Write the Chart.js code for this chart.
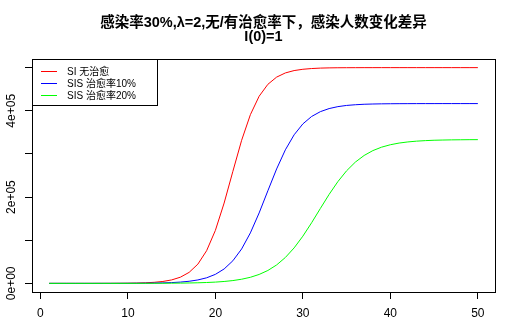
<!DOCTYPE html>
<html>
<head>
<meta charset="utf-8">
<script src="https://cdn.jsdelivr.net/npm/chart.js@4"></script>
<style>
  html, body { margin: 0; padding: 0; background: #fff; }
</style>
</head>
<body>
<canvas id="chart" width="505" height="326"></canvas>
<script>
// time steps (days)
const days = [1, 2, 3, 4, 5, 6, 7, 8, 9, 10, 11, 12, 13, 14, 15, 16, 17, 18, 19, 20,
  21, 22, 23, 24, 25, 26, 27, 28, 29, 30, 31, 32, 33, 34, 35, 36, 37, 38, 39, 40,
  41, 42, 43, 44, 45, 46, 47, 48, 49, 50];

// infected, SI model (no recovery)
const siNoCure = [2, 3, 6, 11, 20, 37, 67, 121, 221, 403, 734, 1335, 2430, 4410, 7970,
  14300, 25500, 44600, 75800, 122800, 186200, 259700, 331600, 391000, 433700, 461300,
  478000, 487700, 493200, 496200, 497900, 498900, 499400, 499700, 499800, 499900,
  499940, 499970, 499980, 499990, 499995, 499997, 499998, 499999, 499999, 500000,
  500000, 500000, 500000, 500000];

// infected, SIS model, recovery 10%
const sisCure10 = [2, 3, 4, 7, 12, 20, 33, 55, 90, 148, 245, 403, 664, 1094, 1800, 2960,
  4860, 7950, 12900, 20900, 33400, 52400, 79800, 117000, 163200, 214600, 265200,
  309500, 344300, 369600, 386800, 398000, 405100, 409600, 412400, 414000, 415100,
  415700, 416100, 416300, 416450, 416540, 416590, 416620, 416640, 416650, 416660,
  416663, 416665, 416666];

// infected, SIS model, recovery 20%
const sisCure20 = [1, 2, 3, 5, 7, 11, 16, 25, 37, 55, 81, 121, 181, 270, 403, 601, 895,
  1334, 1986, 2955, 4390, 6500, 9610, 14100, 20700, 29900, 42700, 60000, 82200, 109400,
  140500, 173600, 206200, 235800, 261000, 281100, 296400, 307700, 315700, 321300,
  325200, 327800, 329600, 330800, 331700, 332200, 332600, 332800, 333000, 333100];

const seriesNames = ['SI 无治愈', 'SIS 治愈率10%', 'SIS 治愈率20%'];
const seriesColors = ['#ff0000', '#0000ff', '#00ff00'];

const xTicks = [0, 10, 20, 30, 40, 50];
const yTicks = [0, 100000, 200000, 300000, 400000, 500000];
const yTickLabels = ['0e+00', '', '2e+05', '', '4e+05', ''];

const titleLines = ['感染率30%,λ=2,无/有治愈率下，感染人数变化差异', 'I(0)=1'];

const FONT = '"Liberation Sans", Arial, "Noto Sans CJK SC", sans-serif';

const toPoints = vals => vals.map((v, i) => ({ x: days[i], y: v }));

// R-style frame, rotated y labels and boxed legend
const rStyle = {
  id: 'rStyle',
  afterDraw(chart) {
    const ctx = chart.ctx;
    const a = chart.chartArea;
    ctx.save();
    ctx.strokeStyle = '#000';
    ctx.lineWidth = 1;
    ctx.strokeRect(a.left + 0.5, a.top + 0.5, a.right - a.left, a.bottom - a.top);

    // y tick labels, rotated like R's las=0
    const ys = chart.scales.y;
    ctx.fillStyle = '#000';
    ctx.font = '12px ' + FONT;
    ctx.textAlign = 'center';
    ctx.textBaseline = 'middle';
    ys.ticks.forEach((t, i) => {
      const lab = yTickLabels[i];
      if (!lab) return;
      ctx.save();
      ctx.translate(11.5, ys.getPixelForValue(t.value));
      ctx.rotate(-Math.PI / 2);
      ctx.fillText(lab, 0, 0);
      ctx.restore();
    });

    // legend box, top-left of plot
    const lx = a.left, ly = a.top;
    ctx.strokeStyle = '#000';
    ctx.strokeRect(lx + 0.5, ly + 0.5, 125, 46);
    ctx.font = '10px ' + FONT;
    ctx.textAlign = 'left';
    seriesNames.forEach((name, i) => {
      const rowY = ly + 12 + i * 12;
      ctx.strokeStyle = seriesColors[i];
      ctx.beginPath();
      ctx.moveTo(lx + 9, rowY + 0.5);
      ctx.lineTo(lx + 25, rowY + 0.5);
      ctx.stroke();
      ctx.fillStyle = '#000';
      ctx.fillText(name, lx + 35, rowY + 1);
    });
    ctx.restore();
  }
};

new Chart(document.getElementById('chart'), {
  type: 'line',
  data: {
    datasets: seriesNames.map((name, i) => ({
      label: name,
      data: toPoints([siNoCure, sisCure10, sisCure20][i]),
      borderColor: seriesColors[i],
      borderWidth: 1,
      pointRadius: 0,
      tension: 0,
      fill: false,
      order: 2 - i // green drawn last, like R
    }))
  },
  options: {
    responsive: false,
    animation: false,
    devicePixelRatio: 1,
    layout: { padding: { left: 0, right: 10, top: 0, bottom: 0 } },
    plugins: {
      legend: { display: false },
      tooltip: { enabled: false },
      title: {
        display: true,
        text: titleLines,
        fullSize: false,
        color: '#000',
        font: { family: FONT, size: 14.5, weight: 'bold', lineHeight: 1 },
        padding: { top: 15.5, bottom: 14.5 }
      }
    },
    scales: {
      x: {
        type: 'linear',
        min: -0.96,
        max: 51.96,
        afterBuildTicks: s => { s.ticks = xTicks.map(v => ({ value: v })); },
        afterFit: s => { s.height = 34; },
        grid: { drawOnChartArea: false, drawTicks: true, tickLength: 7, color: '#000' },
        border: { display: false },
        ticks: {
          color: '#000',
          font: { family: FONT, size: 12 },
          padding: 7,
          maxRotation: 0,
          autoSkip: false
        }
      },
      y: {
        type: 'linear',
        min: -20000,
        max: 520000,
        afterBuildTicks: s => { s.ticks = yTicks.map(v => ({ value: v })); },
        afterFit: s => { s.width = 32; },
        grid: { drawOnChartArea: false, drawTicks: true, tickLength: 7, color: '#000' },
        border: { display: false },
        ticks: { display: false }
      }
    }
  },
  plugins: [rStyle]
});
</script>
</body>
</html>
